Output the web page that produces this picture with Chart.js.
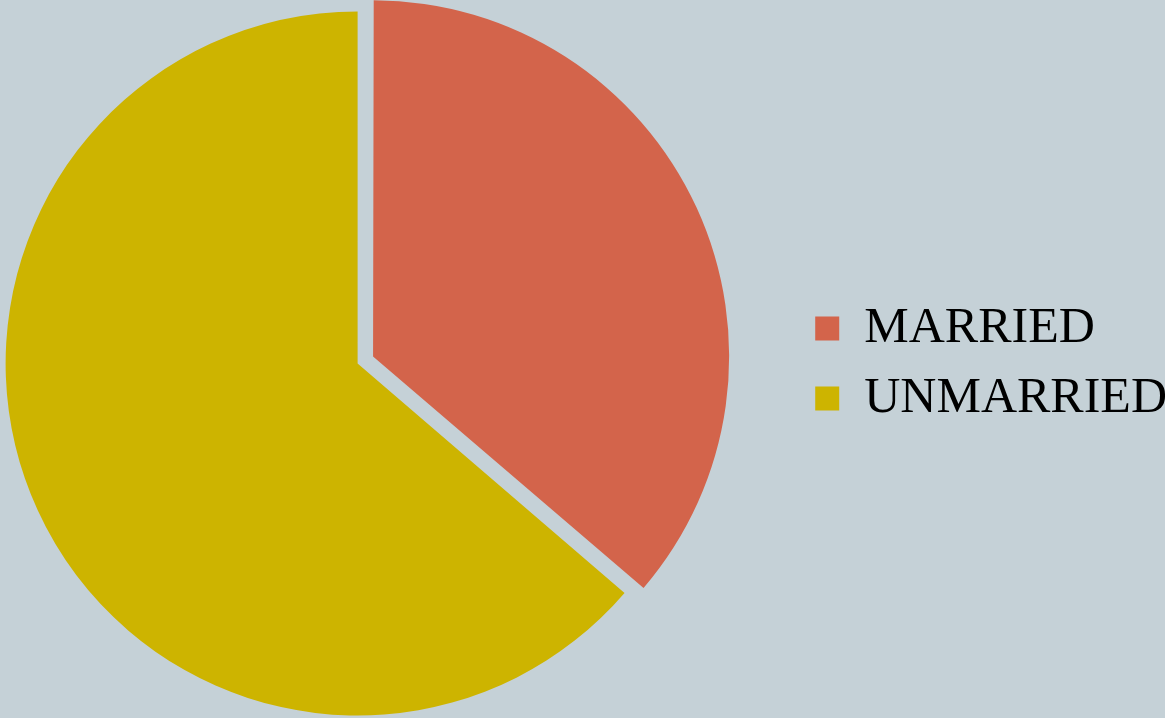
<!DOCTYPE html>
<html>
<head>
<meta charset="utf-8">
<script src="https://cdn.jsdelivr.net/npm/chart.js@4"></script>
<style>
  html, body { margin: 0; padding: 0; background: #c5d1d7; overflow: hidden; }
  #frame { position: relative; width: 1165px; height: 718px; overflow: hidden; }
  /* canvas runs a bit past both edges so the pie and legend land where they should */
  #wrap { position: absolute; left: -80px; top: 0; width: 1257px; height: 718px; }
</style>
</head>
<body>
<div id="frame"><div id="wrap"><canvas id="pie"></canvas></div></div>
<script>
// Marital status split (percent)
const labels = ['MARRIED', 'UNMARRIED'];
const shares = [36.3, 63.7];
const colors = ['#d3644b', '#cdb400'];
const explode = [68, 0];

document.addEventListener('DOMContentLoaded', function() {
    const ctx = document.getElementById('pie').getContext('2d');
    new Chart(ctx, {
        type: 'pie',
        data: {
            labels: labels,
            datasets: [{
                data: shares,
                backgroundColor: colors,
                borderWidth: 0,
                offset: explode
            }]
        },
        options: {
            responsive: true,
            maintainAspectRatio: false,
            animation: false,
            radius: 352,
            layout: {
                padding: { top: 9, bottom: 0, left: 0, right: 0 }
            },
            plugins: {
                tooltip: { enabled: false },
                legend: {
                    position: 'right',
                    labels: {
                        boxWidth: 24,
                        boxHeight: 24,
                        padding: 20,
                        color: '#000',
                        font: { family: "'Liberation Serif', 'Times New Roman', serif", size: 50 }
                    }
                }
            }
        }
    });
});
</script>
</body>
</html>
